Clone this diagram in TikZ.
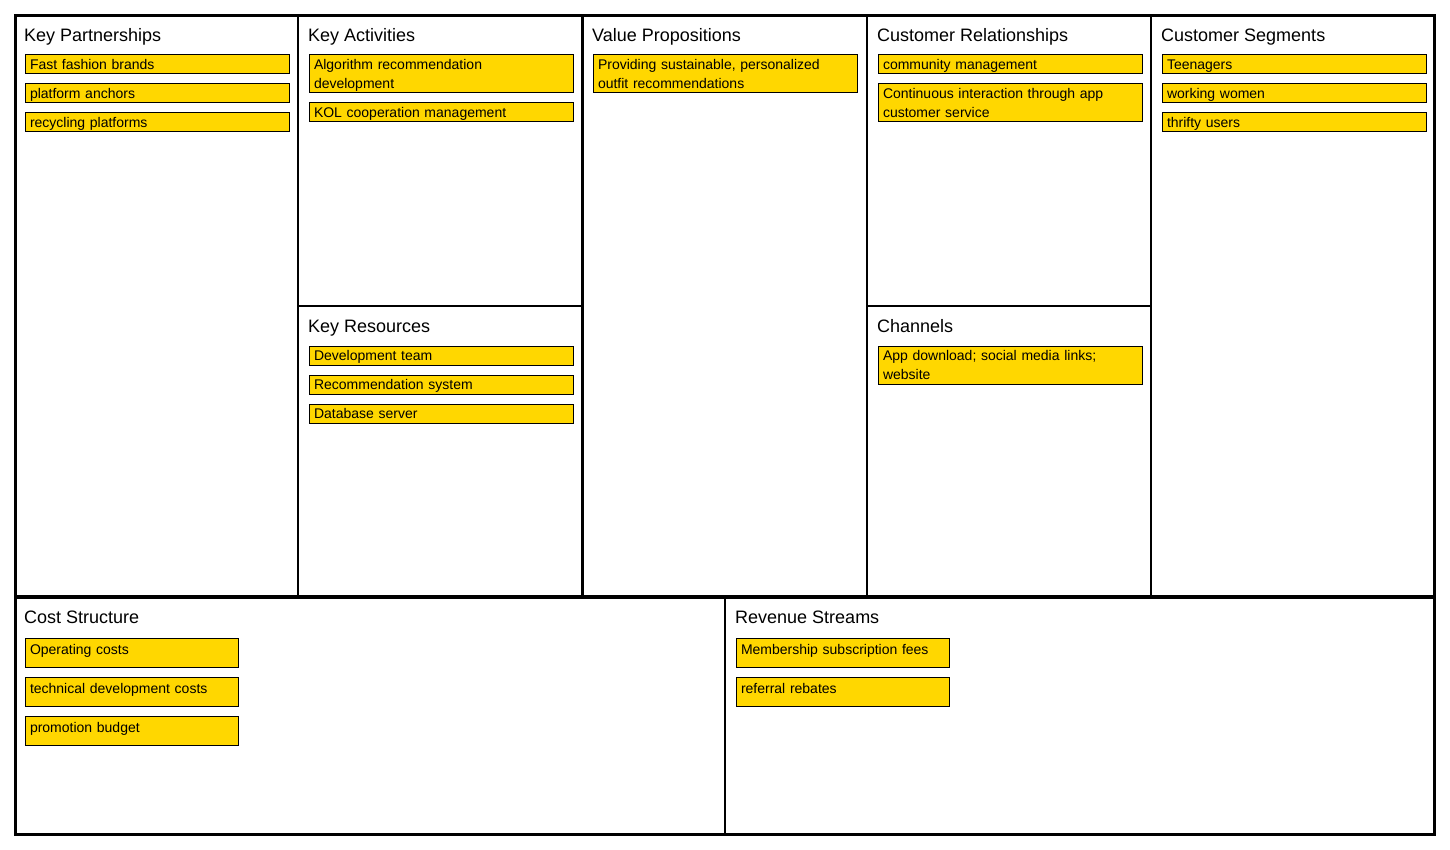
\documentclass[tikz,border=0pt]{standalone}
\usepackage{fontspec}
\setmainfont{Liberation Sans}
\definecolor{itemyellow}{HTML}{FFD700}
\tikzset{
  cell/.style={draw=black, line width=2.6pt},
  title/.style={anchor=base west, inner sep=0pt, font=\fontsize{18}{22}\selectfont},
  item/.style={draw=black, line width=1pt, fill=itemyellow, anchor=north west,
    inner xsep=5pt, inner ysep=0pt, text width=254pt, align=left,
    text height=14.6pt, text depth=4.4pt, font=\fontsize{14}{19}\selectfont},
  item2/.style={item, text depth=23.4pt},
  costitem/.style={item, text width=203pt, text height=16.9pt, text depth=12.1pt}
}
\begin{document}
\begin{tikzpicture}[x=1pt,y=-1pt]
\useasboundingbox (0,0) rectangle (1450,850);
% cells
\draw[cell] (15.5,15.5) rectangle (298,597);
\draw[cell] (298,15.5) rectangle (582.5,306);
\draw[cell] (298,306) rectangle (582.5,597);
\draw[cell] (582.5,15.5) rectangle (867,597);
\draw[cell] (867,15.5) rectangle (1151,306);
\draw[cell] (867,306) rectangle (1151,597);
\draw[cell] (1151,15.5) rectangle (1434.5,597);
\draw[cell] (15.5,597) rectangle (725,834.5);
\draw[cell] (725,597) rectangle (1434.5,834.5);
\draw[cell, line width=3.8pt] (15.5,597) -- (1434.5,597);
% titles
\node[title] (tKP) at (24,41.7) {Key Partnerships};
\node[title] (tKA) at (308,41.7) {Key Activities};
\node[title] (tKR) at (308,332.3) {Key Resources};
\node[title] (tVP) at (592,41.7) {Value Propositions};
\node[title] (tCR) at (877,41.7) {Customer Relationships};
\node[title] (tCH) at (877,332.3) {Channels};
\node[title] (tCS) at (1161,41.7) {Customer Segments};
\node[title] (tC) at (24,623.5) {Cost Structure};
\node[title] (tR) at (735,623.5) {Revenue Streams};
% Key Partnerships
\node[item] (kp1) at (24.5,54.5) {Fast fashion brands};
\node[item] (kp2) at (24.5,83.5) {platform anchors};
\node[item] (kp3) at (24.5,112.5) {recycling platforms};
% Key Activities
\node[item2] (ka1) at (308.5,54.5) {Algorithm recommendation\\development};
\node[item] (ka2) at (308.5,102.5) {KOL cooperation management};
% Key Resources
\node[item] (kr1) at (308.5,345.5) {Development team};
\node[item] (kr2) at (308.5,374.5) {Recommendation system};
\node[item] (kr3) at (308.5,403.5) {Database server};
% Value Propositions
\node[item2] (vp1) at (592.5,54.5) {Providing sustainable, personalized\\outfit recommendations};
% Customer Relationships
\node[item] (cr1) at (877.5,54.5) {community management};
\node[item2] (cr2) at (877.5,83.5) {Continuous interaction through app\\customer service};
% Channels
\node[item2] (ch1) at (877.5,345.5) {App download; social media links;\\website};
% Customer Segments
\node[item] (cs1) at (1161.5,54.5) {Teenagers};
\node[item] (cs2) at (1161.5,83.5) {working women};
\node[item] (cs3) at (1161.5,112.5) {thrifty users};
% Cost Structure
\node[costitem] (c1) at (24.5,637.5) {Operating costs};
\node[costitem] (c2) at (24.5,676.5) {technical development costs};
\node[costitem] (c3) at (24.5,715.5) {promotion budget};
% Revenue Streams
\node[costitem] (r1) at (735.5,637.5) {Membership subscription fees};
\node[costitem] (r2) at (735.5,676.5) {referral rebates};
\end{tikzpicture}
\end{document}
